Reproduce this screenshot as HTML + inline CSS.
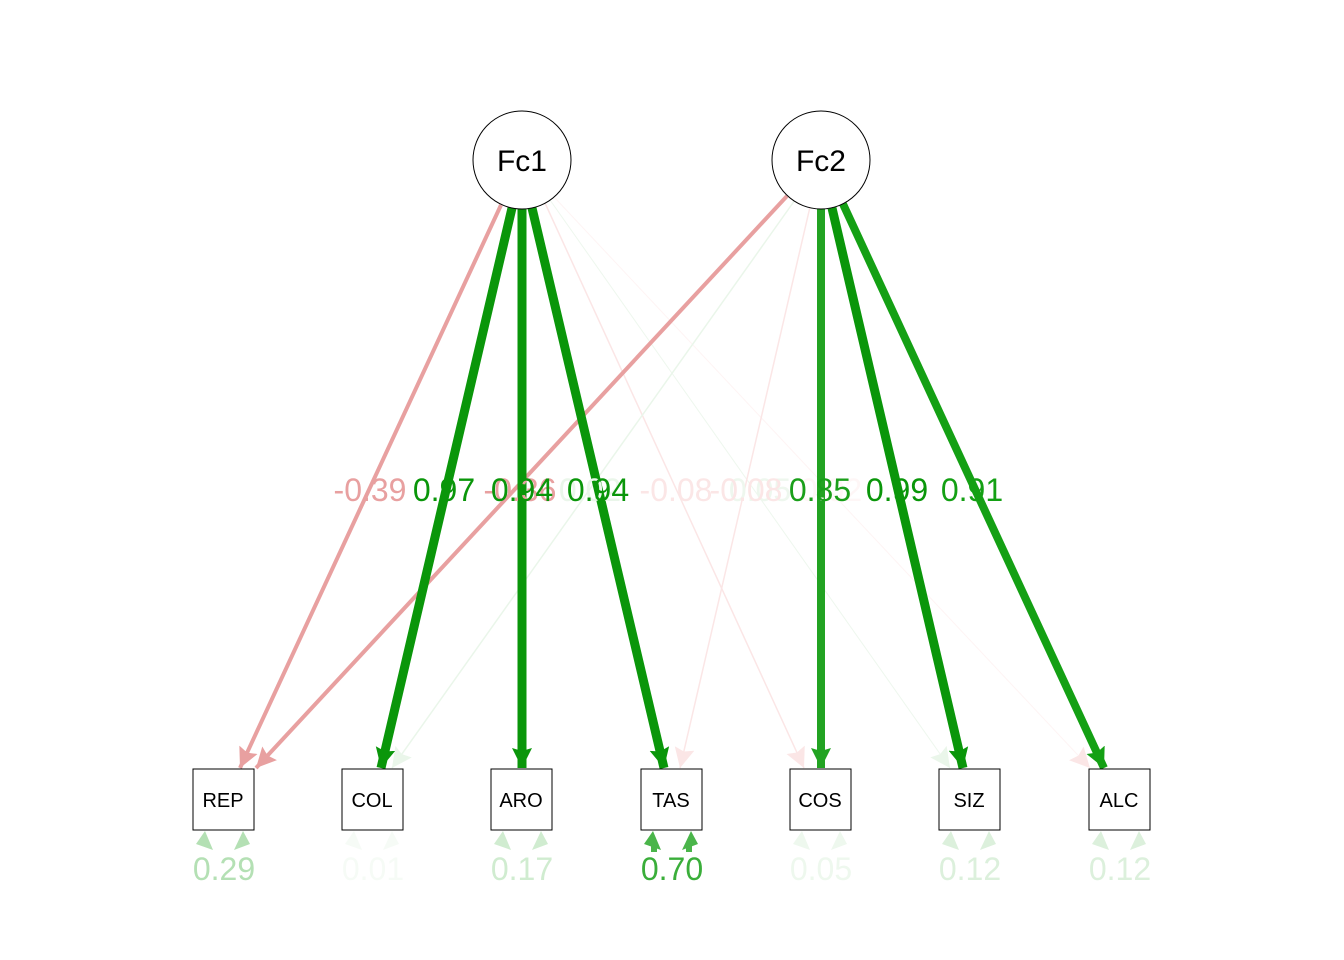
<!DOCTYPE html>
<html><head><meta charset="utf-8"><style>
html,body{margin:0;padding:0;background:#fff;}
svg{display:block;font-family:"Liberation Sans",Arial,sans-serif;}
</style></head><body>
<svg width="1344" height="960" viewBox="0 0 1344 960" xmlns="http://www.w3.org/2000/svg">
<defs>
<marker id="g" markerUnits="userSpaceOnUse" markerWidth="24" markerHeight="22" refX="20" refY="10" orient="auto"><path d="M0,0 L20,10 L0,20 L3,10 Z" fill="#0a960a"/></marker>
<marker id="g2" markerUnits="userSpaceOnUse" markerWidth="24" markerHeight="22" refX="20" refY="10" orient="auto"><path d="M0,0 L20,10 L0,20 L3,10 Z" fill="#22a322"/></marker>
<marker id="g3" markerUnits="userSpaceOnUse" markerWidth="24" markerHeight="22" refX="20" refY="10" orient="auto"><path d="M0,0 L20,10 L0,20 L3,10 Z" fill="#14a014"/></marker>
<marker id="r" markerUnits="userSpaceOnUse" markerWidth="24" markerHeight="22" refX="20" refY="10" orient="auto"><path d="M0,0 L20,10 L0,20 L3,10 Z" fill="#e8a0a0"/></marker>
<marker id="fr" markerUnits="userSpaceOnUse" markerWidth="24" markerHeight="22" refX="20" refY="10" orient="auto"><path d="M0,0 L20,10 L0,20 L3,10 Z" fill="#fbe6e6"/></marker>
<marker id="fg" markerUnits="userSpaceOnUse" markerWidth="24" markerHeight="22" refX="20" refY="10" orient="auto"><path d="M0,0 L20,10 L0,20 L3,10 Z" fill="#eaf6ea"/></marker>
</defs>
<g fill="none">
<line x1="545" y1="203" x2="804" y2="768" stroke="#fbe6e6" stroke-width="1.5" marker-end="url(#fr)"/>
<line x1="550" y1="200" x2="950" y2="768" stroke="#eef7ee" stroke-width="1" marker-end="url(#fg)"/>
<line x1="555" y1="198" x2="1090" y2="768" stroke="#fef4f4" stroke-width="1" marker-end="url(#fr)"/>
<line x1="795" y1="200" x2="392" y2="768" stroke="#eaf6ea" stroke-width="1.5" marker-end="url(#fg)"/>
<line x1="810" y1="207" x2="680" y2="768" stroke="#fbe6e6" stroke-width="1.5" marker-end="url(#fr)"/>
<line x1="501" y1="205" x2="240" y2="768" stroke="#e8a0a0" stroke-width="4" marker-end="url(#r)"/>
<line x1="787" y1="196" x2="256" y2="768" stroke="#e8a0a0" stroke-width="4" marker-end="url(#r)"/>
<line x1="512" y1="208" x2="381" y2="768" stroke="#0a960a" stroke-width="9" marker-end="url(#g)"/>
<line x1="522" y1="209" x2="522" y2="768" stroke="#0a960a" stroke-width="9" marker-end="url(#g)"/>
<line x1="532" y1="208" x2="664" y2="768" stroke="#0a960a" stroke-width="9" marker-end="url(#g)"/>
<line x1="821" y1="209" x2="821" y2="768" stroke="#22a322" stroke-width="8" marker-end="url(#g2)"/>
<line x1="832" y1="208" x2="963" y2="768" stroke="#0a960a" stroke-width="9" marker-end="url(#g)"/>
<line x1="843" y1="204" x2="1104" y2="768" stroke="#14a014" stroke-width="8" marker-end="url(#g3)"/>
</g>
<circle cx="522" cy="160" r="49" fill="#fff" stroke="#000" stroke-width="1"/>
<circle cx="821" cy="160" r="49" fill="#fff" stroke="#000" stroke-width="1"/>
<text x="522" y="171" font-size="30" text-anchor="middle">Fc1</text>
<text x="821" y="171" font-size="30" text-anchor="middle">Fc2</text>
<g fill="#fff" stroke="#000" stroke-width="1">
<rect x="193" y="769" width="61" height="61"/>
<rect x="342" y="769" width="61" height="61"/>
<rect x="491" y="769" width="61" height="61"/>
<rect x="641" y="769" width="61" height="61"/>
<rect x="790" y="769" width="61" height="61"/>
<rect x="939" y="769" width="61" height="61"/>
<rect x="1089" y="769" width="61" height="61"/>
</g>
<g font-size="20" text-anchor="middle">
<text x="223" y="807">REP</text><text x="372" y="807">COL</text><text x="521" y="807">ARO</text>
<text x="671" y="807">TAS</text><text x="820" y="807">COS</text><text x="969" y="807">SIZ</text><text x="1119" y="807">ALC</text>
</g>
<g>
<path d="M205,831 L213,850 L196,844 Z" fill="#b4e0b4"/><path d="M243,831 L250,844 L234,850 Z" fill="#b4e0b4"/>
<path d="M354,831 L362,850 L345,844 Z" fill="#f6fbf6"/><path d="M392,831 L399,844 L383,850 Z" fill="#f6fbf6"/>
<path d="M503,831 L511,850 L494,844 Z" fill="#d0ecd0"/><path d="M541,831 L548,844 L532,850 Z" fill="#d0ecd0"/>
<path d="M653,831 L661,850 L644,844 Z" fill="#4ab54a"/><path d="M691,831 L698,844 L682,850 Z" fill="#4ab54a"/>
<rect x="651" y="846" width="6" height="6" fill="#4ab54a"/><rect x="686" y="846" width="6" height="6" fill="#4ab54a"/>
<path d="M802,831 L810,850 L793,844 Z" fill="#eef8ee"/><path d="M840,831 L847,844 L831,850 Z" fill="#eef8ee"/>
<path d="M951,831 L959,850 L942,844 Z" fill="#dcf0dc"/><path d="M989,831 L996,844 L980,850 Z" fill="#dcf0dc"/>
<path d="M1101,831 L1109,850 L1092,844 Z" fill="#dcf0dc"/><path d="M1139,831 L1146,844 L1130,850 Z" fill="#dcf0dc"/>
</g>
<g font-size="32" text-anchor="middle">
<text x="224" y="880" fill="#b4e0b4">0.29</text>
<text x="373" y="880" fill="#f6fbf6">0.01</text>
<text x="522" y="880" fill="#d0ecd0">0.17</text>
<text x="672" y="880" fill="#3aae3a">0.70</text>
<text x="821" y="880" fill="#eef8ee">0.05</text>
<text x="970" y="880" fill="#dcf0dc">0.12</text>
<text x="1120" y="880" fill="#dcf0dc">0.12</text>
</g>
<g font-size="32" text-anchor="middle">
<text x="831" y="501" fill="#fef6f6">0.02</text>
<text x="590" y="501" fill="#eaf6ea">0.02</text>
<text x="760" y="501" fill="#eef7ee">0.05</text>
<text x="520" y="501" fill="#e8a0a0">-0.36</text>
<text x="370" y="501" fill="#e8a0a0">-0.39</text>
<text x="444" y="501" fill="#0a960a">0.97</text>
<text x="522" y="501" fill="#0a960a">0.94</text>
<text x="598" y="501" fill="#0a960a">0.94</text>
<text x="676" y="501" fill="#fbe6e6">-0.08</text>
<text x="746" y="501" fill="#fbe6e6">-0.08</text>
<text x="820" y="501" fill="#1a9f1a">0.85</text>
<text x="897" y="501" fill="#0a960a">0.99</text>
<text x="972" y="501" fill="#14a014">0.91</text>
</g>
</svg>
</body></html>
